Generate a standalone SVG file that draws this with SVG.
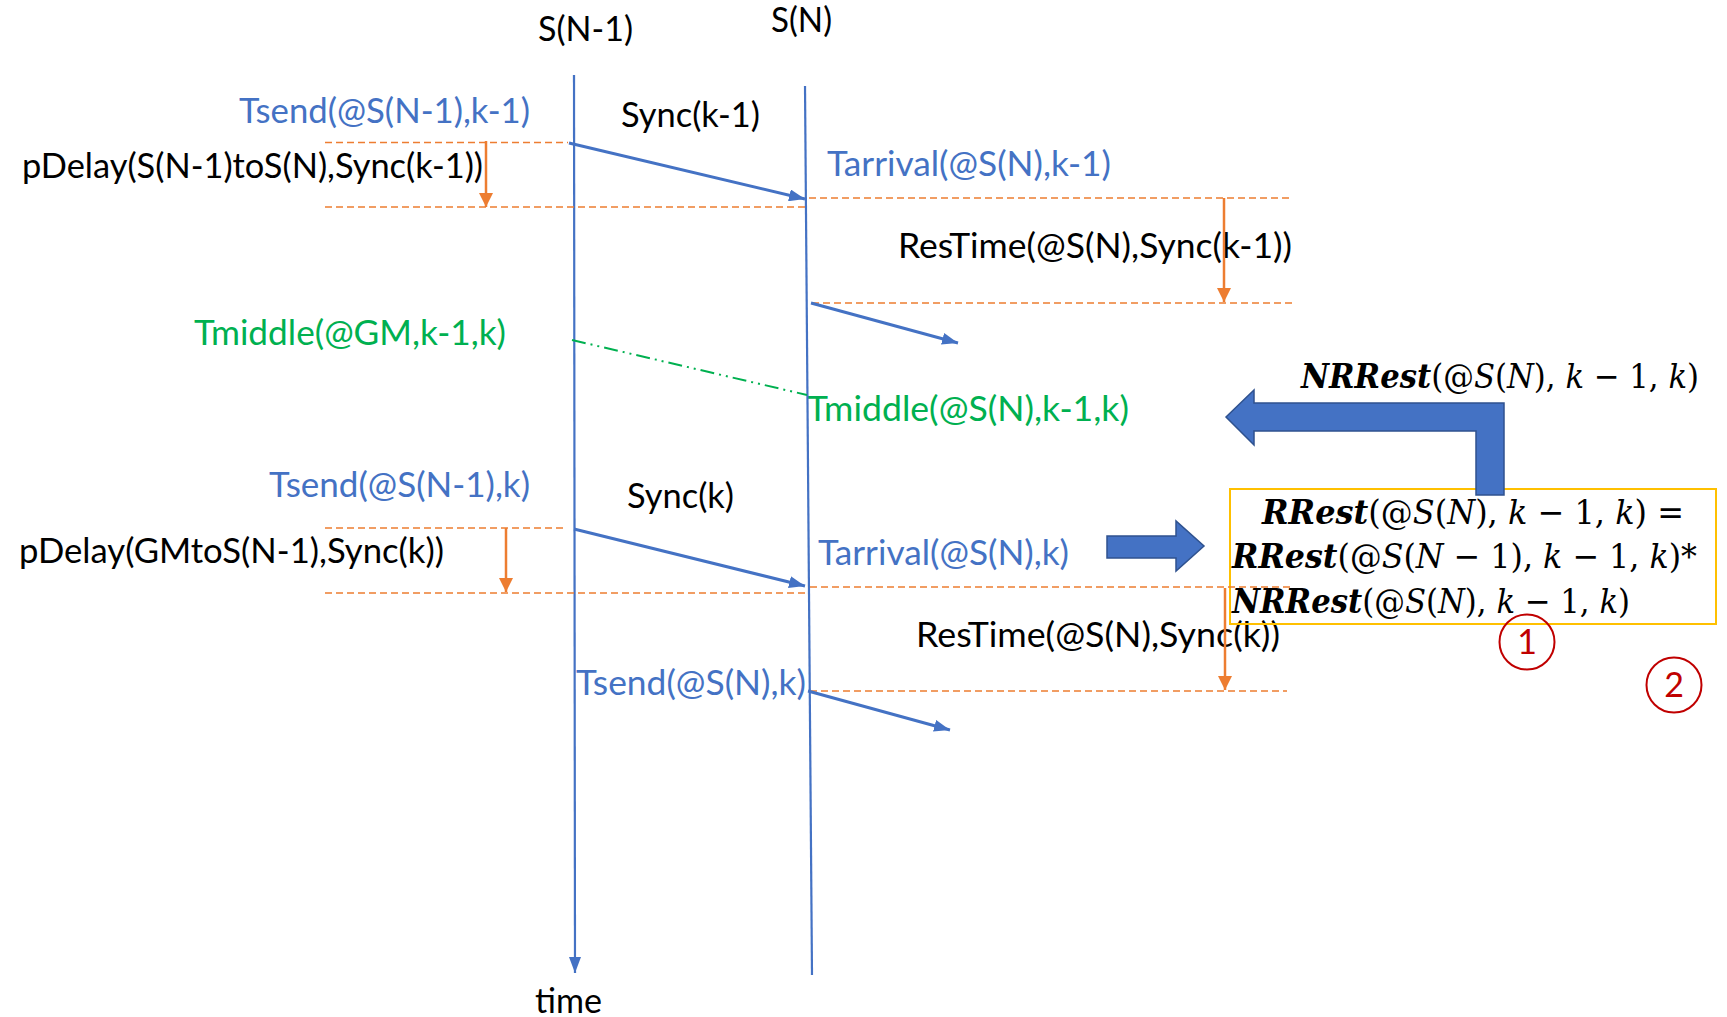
<svg xmlns="http://www.w3.org/2000/svg" width="1727" height="1017" viewBox="0 0 1727 1017">
<style>
text{font-family:Lato,"Liberation Sans",sans-serif;font-size:34px}
.k{fill:#000}
.b{fill:#4472C4}
.g{fill:#00B050}
.r{fill:#C00000;font-size:34px}
.m{font-family:"DejaVu Serif","Liberation Serif",serif;font-size:34px;font-style:italic;fill:#000}
.bi{font-weight:bold}
.up{font-style:normal}
.life{stroke:#4472C4;stroke-width:2.2;fill:none}
.msg{stroke:#4472C4;stroke-width:3;fill:none}
.od{stroke:#ED7D31;stroke-width:1.6;stroke-dasharray:7 4;fill:none}
.oa{stroke:#ED7D31;stroke-width:2.5;fill:none}
.gd{stroke:#00B050;stroke-width:2;stroke-dasharray:14 5 2 5 2 5;fill:none}
.blk{fill:#4472C4;stroke:#2F528F;stroke-width:1.5}
</style>
<defs>
<marker id="ab" markerUnits="userSpaceOnUse" markerWidth="16" markerHeight="12" refX="16" refY="6" orient="auto"><path d="M0,0 L16,6 L0,12 z" fill="#4472C4"/></marker>
<marker id="ao" markerUnits="userSpaceOnUse" markerWidth="14" markerHeight="14" refX="14" refY="7" orient="auto"><path d="M0,0 L14,7 L0,14 z" fill="#ED7D31"/></marker>
</defs>
<rect width="1727" height="1017" fill="#fff"/>

<g id="lifeline-SN-1">
<text class="k" x="538" y="41" textLength="95" lengthAdjust="spacingAndGlyphs">S(N-1)</text>
</g>
<g id="lifeline-SN">
<text class="k" x="771" y="32" textLength="61" lengthAdjust="spacingAndGlyphs">S(N)</text>
</g>
<g id="time-label">
<text class="k" x="535" y="1013" textLength="67" lengthAdjust="spacingAndGlyphs">time</text>
</g>
<g id="labels-k-1">
<text class="b" x="239" y="123" textLength="291" lengthAdjust="spacingAndGlyphs">Tsend(@S(N-1),k-1)</text>
<text class="k" x="621" y="127" textLength="139" lengthAdjust="spacingAndGlyphs">Sync(k-1)</text>
<text class="k" x="22" y="178" textLength="461" lengthAdjust="spacingAndGlyphs">pDelay(S(N-1)toS(N),Sync(k-1))</text>
<text class="b" x="827" y="176" textLength="284" lengthAdjust="spacingAndGlyphs">Tarrival(@S(N),k-1)</text>
<text class="k" x="898" y="258" textLength="394" lengthAdjust="spacingAndGlyphs">ResTime(@S(N),Sync(k-1))</text>
</g>
<g id="labels-middle">
<text class="g" x="194" y="345" textLength="312" lengthAdjust="spacingAndGlyphs">Tmiddle(@GM,k-1,k)</text>
<text class="g" x="807" y="421" textLength="322" lengthAdjust="spacingAndGlyphs">Tmiddle(@S(N),k-1,k)</text>
</g>
<g id="labels-k">
<text class="b" x="269" y="497" textLength="261" lengthAdjust="spacingAndGlyphs">Tsend(@S(N-1),k)</text>
<text class="k" x="627" y="508" textLength="107" lengthAdjust="spacingAndGlyphs">Sync(k)</text>
<text class="k" x="19" y="563" textLength="425" lengthAdjust="spacingAndGlyphs">pDelay(GMtoS(N-1),Sync(k))</text>
<text class="b" x="818" y="565" textLength="251" lengthAdjust="spacingAndGlyphs">Tarrival(@S(N),k)</text>
<text class="k" x="916" y="647" textLength="364" lengthAdjust="spacingAndGlyphs">ResTime(@S(N),Sync(k))</text>
<text class="b" x="576" y="695" textLength="230" lengthAdjust="spacingAndGlyphs">Tsend(@S(N),k)</text>
</g>
<g id="nrrest-label">
<text class="m" x="1301" y="388" textLength="398" lengthAdjust="spacingAndGlyphs"><tspan class="bi">NRRest</tspan><tspan class="up">(@</tspan>S<tspan class="up">(</tspan>N<tspan class="up">), </tspan>k<tspan class="up"> − 1, </tspan>k<tspan class="up">)</tspan></text>
</g>
<g id="formula-box">
<rect x="1230" y="489" width="486" height="135" fill="none" stroke="#FFC000" stroke-width="2"/>
<text class="m" x="1262" y="524" textLength="422" lengthAdjust="spacingAndGlyphs"><tspan class="bi">RRest</tspan><tspan class="up">(@</tspan>S<tspan class="up">(</tspan>N<tspan class="up">), </tspan>k<tspan class="up"> − 1, </tspan>k<tspan class="up">) =</tspan></text>
<text class="m" x="1232" y="568" textLength="465" lengthAdjust="spacingAndGlyphs"><tspan class="bi">RRest</tspan><tspan class="up">(@</tspan>S<tspan class="up">(</tspan>N<tspan class="up"> − 1), </tspan>k<tspan class="up"> − 1, </tspan>k<tspan class="up">)*</tspan></text>
<text class="m" x="1232" y="613" textLength="398" lengthAdjust="spacingAndGlyphs"><tspan class="bi">NRRest</tspan><tspan class="up">(@</tspan>S<tspan class="up">(</tspan>N<tspan class="up">), </tspan>k<tspan class="up"> − 1, </tspan>k<tspan class="up">)</tspan></text>
</g>
<g id="marker-1">
<circle cx="1527" cy="642" r="27.5" fill="none" stroke="#C00000" stroke-width="2"/>
<text class="r" x="1527" y="654" text-anchor="middle">1</text>
</g>
<g id="marker-2">
<circle cx="1674" cy="685" r="27.5" fill="none" stroke="#C00000" stroke-width="2"/>
<text class="r" x="1674" y="697" text-anchor="middle">2</text>
</g>

<g id="connectors">
<line class="life" x1="574" y1="75" x2="575" y2="973" marker-end="url(#ab)"/>
<line class="life" x1="805" y1="86" x2="812" y2="975"/>
<line class="od" x1="325" y1="142.5" x2="568" y2="142.5"/>
<line class="od" x1="325" y1="207" x2="805" y2="207"/>
<line class="od" x1="809" y1="198" x2="1292" y2="198"/>
<line class="od" x1="812" y1="303" x2="1294" y2="303"/>
<line class="od" x1="325" y1="528" x2="563" y2="528"/>
<line class="od" x1="325" y1="593" x2="806" y2="593"/>
<line class="od" x1="810" y1="587" x2="1291" y2="587"/>
<line class="od" x1="810" y1="691" x2="1287" y2="691"/>
<line class="msg" x1="569" y1="143" x2="805" y2="199" marker-end="url(#ab)"/>
<line class="msg" x1="811" y1="303" x2="958" y2="343" marker-end="url(#ab)"/>
<line class="msg" x1="574" y1="529" x2="805" y2="586" marker-end="url(#ab)"/>
<line class="msg" x1="808" y1="691" x2="950" y2="730" marker-end="url(#ab)"/>
<line class="oa" x1="486" y1="141" x2="486" y2="207" marker-end="url(#ao)"/>
<line class="oa" x1="1224" y1="198" x2="1224" y2="302" marker-end="url(#ao)"/>
<line class="oa" x1="506" y1="528" x2="506" y2="592" marker-end="url(#ao)"/>
<line class="oa" x1="1225" y1="588" x2="1225" y2="690" marker-end="url(#ao)"/>
<line class="gd" x1="572" y1="340" x2="807" y2="395"/>
<path class="blk" d="M1107,536 L1176,536 L1176,521 L1204,546 L1176,571 L1176,558 L1107,558 Z"/>
<path class="blk" d="M1226,417 L1254,390 L1254,403 L1504,403 L1504,495 L1476,495 L1476,431 L1254,431 L1254,445 Z"/>
</g>
</svg>
